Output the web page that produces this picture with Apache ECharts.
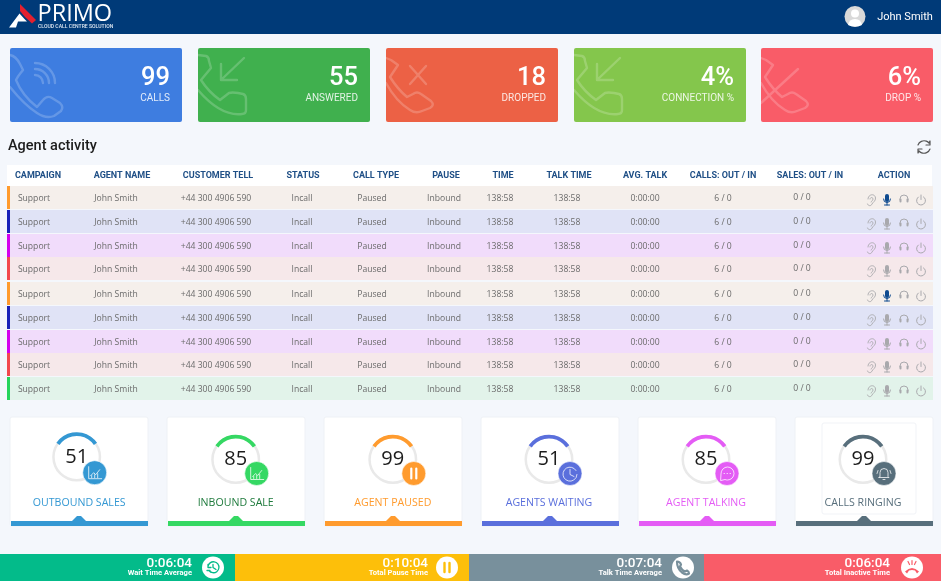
<!DOCTYPE html>
<html>
<head>
<meta charset="utf-8">
<title>Primo dashboard</title>
<style>
  html, body { margin: 0; height: 100%; background: #f4f7fc; }
  #chart { width: 941px; height: 581px; }
</style>
<script src="https://cdn.jsdelivr.net/npm/echarts@6/dist/echarts.min.js"></script>
</head>
<body>
<div id="chart"></div>
<script>
// kpi tiles
const kpiValues = ['99', '55', '18', '4%', '6%'];
const kpiLabels = ['CALLS', 'ANSWERED', 'DROPPED', 'CONNECTION %', 'DROP %'];
const kpiColors = ['#3e7de0', '#40b04e', '#ec6145', '#84c64c', '#f95c68'];

// table
const tableHeaders = ['CAMPAIGN', 'AGENT NAME', 'CUSTOMER TELL', 'STATUS', 'CALL TYPE', 'PAUSE', 'TIME', 'TALK TIME', 'AVG. TALK', 'CALLS: OUT / IN', 'SALES: OUT / IN', 'ACTION'];
const campaigns = ['Support', 'Support', 'Support', 'Support', 'Support', 'Support', 'Support', 'Support', 'Support'];
const agentNames = ['John Smith', 'John Smith', 'John Smith', 'John Smith', 'John Smith', 'John Smith', 'John Smith', 'John Smith', 'John Smith'];
const customerTells = ['+44 300 4906 590', '+44 300 4906 590', '+44 300 4906 590', '+44 300 4906 590', '+44 300 4906 590', '+44 300 4906 590', '+44 300 4906 590', '+44 300 4906 590', '+44 300 4906 590'];
const statuses = ['Incall', 'Incall', 'Incall', 'Incall', 'Incall', 'Incall', 'Incall', 'Incall', 'Incall'];
const callTypes = ['Paused', 'Paused', 'Paused', 'Paused', 'Paused', 'Paused', 'Paused', 'Paused', 'Paused'];
const pauses = ['Inbound', 'Inbound', 'Inbound', 'Inbound', 'Inbound', 'Inbound', 'Inbound', 'Inbound', 'Inbound'];
const times = ['138:58', '138:58', '138:58', '138:58', '138:58', '138:58', '138:58', '138:58', '138:58'];
const talkTimes = ['138:58', '138:58', '138:58', '138:58', '138:58', '138:58', '138:58', '138:58', '138:58'];
const avgTalks = ['0:00:00', '0:00:00', '0:00:00', '0:00:00', '0:00:00', '0:00:00', '0:00:00', '0:00:00', '0:00:00'];
const callsOutIn = ['6 / 0', '6 / 0', '6 / 0', '6 / 0', '6 / 0', '6 / 0', '6 / 0', '6 / 0', '6 / 0'];
const salesOutIn = ['0 / 0', '0 / 0', '0 / 0', '0 / 0', '0 / 0', '0 / 0', '0 / 0', '0 / 0', '0 / 0'];
const liveMicRows = [0, 4];
const rowFills = ['#f5efeb', '#e0e3f6', '#f1dcfb', '#f6e8ea', '#f5efeb', '#e0e3f6', '#f1dcfb', '#f6e8ea', '#e2f3ea'];
const rowStripes = ['#ff9b2e', '#1a22b8', '#d400ee', '#f2484e', '#ff9b2e', '#1a22b8', '#d400ee', '#f2484e', '#26d45c'];

// gauges
const gaugeValues = [51, 85, 99, 51, 85, 99];
const gaugeTitles = ['OUTBOUND SALES', 'INBOUND SALE', 'AGENT PAUSED', 'AGENTS WAITING', 'AGENT TALKING', 'CALLS RINGING'];
const gaugeColors = ['#3498d3', '#35d863', '#ff9b2e', '#5a6fdc', '#e45cf5', '#586f7c'];
const gaugeTitleColors = ['#3498d3', '#1e7a3c', '#ff9b2e', '#5a6fdc', '#e45cf5', '#586f7c'];
const gaugeArcDegrees = [110, 110, 110, 110, 110, 110];

// bottom strip
const stripTimes = ['0:06:04', '0:10:04', '0:07:04', '0:06:04'];
const stripLabels = ['Wait Time Average', 'Total Pause Time', 'Talk Time Average', 'Total Inactive Time'];
const stripColors = ['#03bb8a', '#fdbf0a', '#78909c', '#f95c68'];

const ROBOTO = 'Roboto, sans-serif';
const OPEN = '"Open Sans", sans-serif';

function txt(text, x, y, size, fill, align, weight, family) {
  return { type: 'text', style: {
    text: text, x: x, y: y, fill: fill, align: align || 'center', verticalAlign: 'middle',
    fontSize: size, fontWeight: weight || 400, fontFamily: family || ROBOTO
  } };
}
function box(x, y, w, h, fill, r, stroke) {
  return { type: 'rect', shape: { x: x, y: y, width: w, height: h, r: r || 0 },
    style: { fill: fill, stroke: stroke || null, lineWidth: stroke ? 1 : 0 } };
}
function line(d, x, y, stroke, width, scale) {
  return { type: 'path', x: x, y: y, scaleX: scale || 1, scaleY: scale || 1, shape: { pathData: d },
    style: { fill: 'none', stroke: stroke, lineWidth: width, lineCap: 'round', lineJoin: 'round' } };
}
function solid(d, x, y, fill) {
  return { type: 'path', x: x, y: y, shape: { pathData: d }, style: { fill: fill } };
}

// tile watermarks, drawn in tile coordinates
const phoneA = 'M0 7 C5 8 8 12 10 16 L13 22 C10 26 8 28 6 32 C10 42 18 52 27 59 L33 52 Q37 47 42 50 L50 55 Q54 59 51 63 L44 68 Q36 71 27 65 C16 58 8 49 0 39';
const phoneB = 'M0 7 L8 8 Q11 9 11 13 L13 20 L3 32 C8 40 15 47 22 52 L31 45 Q34 44 40 45 L45 46 Q48 47 48 51 L48 62 Q48 66 44 66 C28 68 12 56 0 42';
const phoneC = 'M0 10 L5 12 L12 17 L4 29 C9 37 15 44 21 49 L27 46 Q31 43 35 46 L45 53 Q49 57 44 60 L36 63 Q30 66 24 62 C14 56 6 46 0 35';
const kpiMarks = [
  phoneA + ' M25 27 A8 8 0 0 1 33 35 M25 21 A14 14 0 0 1 39 35 M25 15 A20 20 0 0 1 45 35',
  phoneB + ' M46 10 L23 32 M23 16 L23 32 L39 32',
  phoneC + ' M24 18 L40 36 M40 18 L24 36',
  phoneB + ' M46 10 L23 32 M23 16 L23 32 L39 32',
  phoneC + ' M37 21 L0 55'
];

const kpiX = [10, 198, 386, 574, 761];
const headerX = [38, 122, 218, 303, 376, 446, 503, 569, 645, 723, 810, 894];
const bodyColumns = [campaigns, agentNames, customerTells, statuses, callTypes, pauses, times, talkTimes, avgTalks, callsOutIn, salesOutIn];
const bodyX = [34, 116, 216, 302, 372, 444, 500, 567, 645, 723, 802];
const rowY = [186, 210, 234, 257, 282, 306, 330, 353, 377];
const cardX = [10, 167, 324, 481, 638, 795];
const gaugeX = [76.7, 235.7, 392.8, 549, 706, 863];
const gaugeY = [457, 459.5, 459.5, 459.5, 459.5, 459.5];
const stripX = [0, 235, 469, 704, 941];
const stripTextX = [192, 428, 662, 890];
const stripIconX = [213, 447, 683, 912];

function background() {
  const els = [box(0, 0, 941, 34, '#003a78')];
  // logo
  els.push(solid('M20 4 L36 20 L32 23.5 L25 17 L20 11 Z', 0, 0, '#e3202f'));
  els.push(solid('M9 27.5 L19.5 13.5 L24.5 19 L27 21.5 L18 21.5 L16 27.5 Z', 0, 0, '#ffffff'));
  els.push(txt('PRIMO', 37.5, 14.5, 23.5, '#fff', 'left', 400, OPEN));
  els.push(txt('CLOUD CALL CENTRE SOLUTION', 38, 27, 5.1, '#dfe8f2', 'left', 500));
  // user
  els.push({ type: 'circle', shape: { cx: 855, cy: 16.5, r: 10.5 }, style: { fill: '#d9d9d9' } });
  els.push({ type: 'circle', shape: { cx: 855, cy: 13.5, r: 4 }, style: { fill: '#fff' } });
  els.push(solid('M848 25 Q849 19 855 19 Q861 19 862 25 Q855 28 848 25 Z', 0, 0, '#fff'));
  els.push(txt('John Smith', 905, 17, 11, '#fff'));

  kpiValues.forEach((v, i) => {
    const x = kpiX[i];
    els.push(box(x, 48, 172, 74, kpiColors[i], 2));
    els.push(line(kpiMarks[i], x, 48, 'rgba(255,255,255,0.2)', 2.4));
    els.push(txt(v, x + 160, 78.5, 25.5, '#fff', 'right', 500));
    els.push(txt(kpiLabels[i], x + 160, 98.5, 10, 'rgba(255,255,255,0.85)', 'right', 400));
  });

  els.push(txt('Agent activity', 8, 146, 14.5, '#1c1c1c', 'left', 500));
  els.push(line('M-6 -2 A6.5 6.5 0 0 1 5 -4 L6 -6 L6 -2 L2 -2 M6 2 A6.5 6.5 0 0 1 -5 4 L-6 6 L-6 2 L-2 2', 924, 147, '#555', 1.2));

  els.push(box(7, 165, 925, 21, '#fff'));
  tableHeaders.forEach((h, i) => els.push(txt(h, headerX[i], 175.5, 9, '#1f4f86', 'center', 700)));
  rowY.forEach((y, r) => {
    els.push(box(7, y, 926, 23, rowFills[r]));
    els.push(box(7, y, 3, 23, rowStripes[r]));
    bodyColumns.forEach((col, c) => {
      // sales column sits a pixel higher in the reference
      els.push(txt(col[r], bodyX[c], y + 12.6 - (c === 10 ? 1 : 0), 8.6, '#6b6b6b', 'center', 400, OPEN));
    });
    const cy = y + 14;
    const grey = '#a9a9ad';
    els.push(line('M-3 -1 C-3 -6 4 -7 4.5 -2 C4.8 1 2 2 1 4 C0 6.5 -3 6 -3.5 4 M-1 -1 C-1 -3 2 -3 2 -1 C2 1 0 1 0 2', 871, cy, grey, 0.9));
    const micColor = liveMicRows.includes(r) ? '#0e4a8f' : grey;
    els.push(box(885, cy - 6, 4, 8, micColor, 2));
    els.push(line('M-3.5 -1 A3.5 3.5 0 0 0 3.5 -1 M0 2.5 V5 M-2.5 5 H2.5', 887, cy, micColor, 1));
    els.push(line('M-4 0 V-1 A4 4 0 0 1 4 -1 V0', 904, cy, grey, 1));
    els.push(box(899.5, cy - 1.5, 2, 4, grey, 1));
    els.push(box(906.5, cy - 1.5, 2, 4, grey, 1));
    els.push(line('M-2.6 -3 A4.4 4.4 0 1 0 2.6 -3 M0 -5 V-0.5', 921, cy, grey, 1));
  });

  gaugeTitles.forEach((title, i) => {
    const x = cardX[i];
    els.push(box(x, 417, 138, 109, '#fff', 2, '#eef1f6'));
    if (i === 5) els.push(box(822, 423, 94, 91, '#fff', 2, '#f1f3f7'));
    els.push(txt(title, gaugeX[i] + 2.5 * (i === 0 ? 1 : 0), 502.5, 10.6, gaugeTitleColors[i], 'center', 500, OPEN));
    els.push(box(x + 1, 521, 137, 5, gaugeColors[i]));
    els.push(solid('M-7 5 L-2 0 L2 0 L7 5 Z', x + 69, 516, gaugeColors[i]));
  });

  stripTimes.forEach((t, i) => {
    els.push(box(stripX[i], 554, stripX[i + 1] - stripX[i], 27, stripColors[i]));
    els.push(txt(t, stripTextX[i], 563.5, 13.5, '#fff', 'right', 500));
    els.push(txt(stripLabels[i], stripTextX[i], 573.5, 7.6, '#fff', 'right', 700));
  });
  return { type: 'group', children: els };
}

const badgeGlyphs = [
  'M-6 -6 V6 H7 M-4 3 L-1 0 L1 2 L5 -3 M-3 5 V3 M0 5 V2 M3 5 V1',
  'M-6 -6 V6 H7 M-4 3 L-1 0 L1 2 L5 -3 M-3 5 V3 M0 5 V2 M3 5 V1',
  'M-2.5 -5 V5 M2.5 -5 V5',
  'M6 -3 A7 7 0 1 0 7 1 M0 -4 V1 L4 3',
  'M-6 0 A6.5 6.5 0 1 1 -2 6 L-6 7 Z M-3 0 H-2.5 M0 0 H0.5 M3 0 H3.5',
  'M-4 3 V-1 A4 4 0 0 1 4 -1 V3 L5 4 H-5 Z M-1 6 H1 M-6 -3 L-7 0 M6 -3 L7 0'
];

function overlay() {
  const els = [];
  gaugeX.forEach((cx, i) => {
    const bx = cx + (i === 0 ? 18 : 21);
    const by = gaugeY[i] + (i === 0 ? 15.7 : 14);
    els.push({ type: 'circle', shape: { cx: bx, cy: by, r: 12 }, style: { fill: gaugeColors[i], stroke: '#fff', lineWidth: 0.6 } });
    els.push(line(badgeGlyphs[i], bx, by, i === 2 ? '#fff' : 'rgba(255,255,255,0.85)', i === 2 ? 2.2 : 0.9));
  });
  stripIconX.forEach((cx, i) => {
    els.push({ type: 'circle', shape: { cx: cx, cy: 567.5, r: 11 }, style: { fill: '#fff' } });
  });
  els.push(line('M-5 -1 A5.5 5.5 0 1 1 -4 3 M-5 -3 V0 H-2 M0 -3 V0 L3 2 M-6 3 H-3', 213, 567.5, stripColors[0], 1.3));
  els.push(line('M-2.5 -4.5 V4.5 M2.5 -4.5 V4.5', 447, 567.5, stripColors[1], 2.4));
  els.push(line('M-6 -6 Q-3 -6 -2 -3 L-3 -1 Q-1 3 2 4 L4 3 Q6 4 6 6 Q3 8 -1 5 Q-6 1 -6 -6 Z', 683, 567.5, stripColors[2], 2.2));
  els.push(solid('M-7 4 Q0 -3 7 4 L5 6 L3 3 Q0 2 -3 3 L-5 6 Z', 912, 567.5, stripColors[3]));
  els.push(line('M0 -7 V-3 M-4 -6 L-2.5 -3 M4 -6 L2.5 -3', 912, 567.5, stripColors[3], 1.2));
  return { type: 'group', children: els };
}

function ringSeries(i) {
  return {
    type: 'pie', z: 3, silent: true, animation: false, center: [gaugeX[i], gaugeY[i]], radius: [22, 24.5],
    label: { show: false }, labelLine: { show: false },
    data: [{ value: 1, itemStyle: { color: '#e9e9e9' } }]
  };
}
function arcSeries(i) {
  return {
    type: 'pie', z: 4, silent: true, animation: false, center: [gaugeX[i], gaugeY[i]], radius: [21, 24.8],
    startAngle: 90 + gaugeArcDegrees[i] / 2, clockwise: true, labelLine: { show: false },
    data: [
      { value: gaugeArcDegrees[i], name: String(gaugeValues[i]), itemStyle: { color: gaugeColors[i] },
        label: { show: true, position: 'center', formatter: '{b}', fontSize: 20, color: '#1c1c1c', fontFamily: OPEN } },
      { value: 360 - gaugeArcDegrees[i], itemStyle: { color: 'transparent' }, label: { show: false } }
    ]
  };
}

const chart = echarts.init(document.getElementById('chart'), null, { renderer: 'canvas' });
chart.setOption({
  backgroundColor: '#f4f7fc',
  animation: false,
  series: [
    { type: 'custom', coordinateSystem: 'none', z: 1, silent: true, data: [0], renderItem: background },
    ...gaugeValues.map((v, i) => ringSeries(i)),
    ...gaugeValues.map((v, i) => arcSeries(i)),
    { type: 'custom', coordinateSystem: 'none', z: 5, silent: true, data: [0], renderItem: overlay }
  ]
});
</script>
</body>
</html>
